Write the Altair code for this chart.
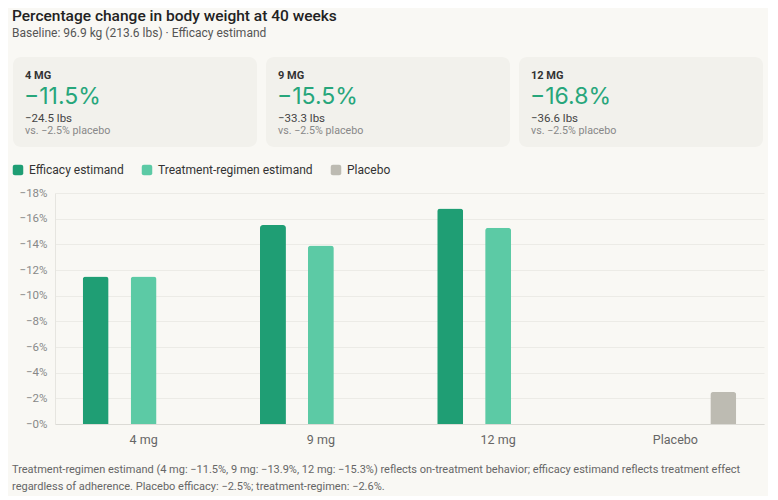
import altair as alt
import pandas as pd

FONT = "Roboto"

doses = ["4 mg", "9 mg", "12 mg", "Placebo"]
series = ["Efficacy estimand", "Treatment-regimen estimand", "Placebo"]
colors = ["#1f9e74", "#5ccaa5", "#bdbbb2"]

bar_dose = ["4 mg", "4 mg", "9 mg", "9 mg", "12 mg", "12 mg", "Placebo"]
bar_series = ["Efficacy estimand", "Treatment-regimen estimand",
              "Efficacy estimand", "Treatment-regimen estimand",
              "Efficacy estimand", "Treatment-regimen estimand",
              "Placebo"]
bar_value = [-11.5, -11.5, -15.5, -13.9, -16.8, -15.3, -2.5]

card_label = ["4 MG", "9 MG", "12 MG"]
card_pct = [-11.5, -15.5, -16.8]
card_lbs = [-24.5, -33.3, -36.6]
card_placebo = [-2.5, -2.5, -2.5]

y_ticks = [0, -2, -4, -6, -8, -10, -12, -14, -16, -18]

title_text = "Percentage change in body weight at 40 weeks"
subtitle_text = "Baseline: 96.9 kg (213.6 lbs) \u00b7 Efficacy estimand"
footnote_lines = [
    "Treatment-regimen estimand (4 mg: \u221211.5%, 9 mg: \u221213.9%, 12 mg: \u221215.3%) reflects on-treatment behavior; efficacy estimand reflects treatment effect",
    "regardless of adherence. Placebo efficacy: \u22122.5%; treatment-regimen: \u22122.6%.",
]

PLOT_W = 709
PLOT_H = 231
LEFT = 43

# ---------- cards ----------
cards_df = pd.DataFrame({
    "dose": card_label,
    "pct": [f"\u2212{abs(v):.1f}%" for v in card_pct],
    "lbs": [f"\u2212{abs(v):.1f} lbs" for v in card_lbs],
    "vs": [f"vs. \u2212{abs(v):.1f}% placebo" for v in card_placebo],
})

cbase = alt.Chart(cards_df).encode(
    x=alt.X("dose:N", sort=card_label, axis=None,
            scale=alt.Scale(range=[-42, 708], paddingInner=0.0356, paddingOuter=0))
)
card_rect = cbase.mark_rect(color="#f2f1ec", cornerRadius=8)
t_label = cbase.mark_text(align="left", baseline="alphabetic", dx=-110, fontSize=11,
                          fontWeight="bold", color="#333333").encode(
    y=alt.value(22), text="dose:N")
t_pct = cbase.mark_text(align="left", baseline="alphabetic", dx=-111, fontSize=23,
                        font="Inter", color="#27a67b").encode(y=alt.value(47), text="pct:N")
t_lbs = cbase.mark_text(align="left", baseline="alphabetic", dx=-110, fontSize=11.5,
                        color="#444444").encode(y=alt.value(64.5), text="lbs:N")
t_vs = cbase.mark_text(align="left", baseline="alphabetic", dx=-110, fontSize=10.7,
                       color="#888888").encode(y=alt.value(77), text="vs:N")
cards = alt.layer(card_rect, t_label, t_pct, t_lbs, t_vs).properties(width=PLOT_W, height=90)

# ---------- bars ----------
bar_df = pd.DataFrame({"dose": bar_dose, "series": bar_series, "value": bar_value})

rounded_square = "M-0.6,-1H0.6Q1,-1,1,-0.6V0.6Q1,1,0.6,1H-0.6Q-1,1,-1,0.6V-0.6Q-1,-1,-0.6,-1Z"

bars = alt.Chart(bar_df).mark_bar(cornerRadiusTopLeft=3, cornerRadiusTopRight=3).encode(
    x=alt.X("dose:N", sort=doses,
            scale=alt.Scale(domain=doses, paddingInner=0, paddingOuter=0),
            axis=alt.Axis(title=None, labelAngle=0, ticks=False, domainColor="#dcdbd6",
                          labelPadding=9, labelFontSize=12.5, labelColor="#666666",
                          grid=False)),
    xOffset=alt.XOffset("series:N", sort=series,
                        scale=alt.Scale(domain=series, paddingInner=0.458, paddingOuter=0.578)),
    y=alt.Y("value:Q", scale=alt.Scale(domain=[0, -18]),
            axis=alt.Axis(title=None, values=y_ticks, ticks=False,
                          labelExpr="'\u2212' + abs(datum.value) + '%'",
                          labelFontSize=11.5, labelColor="#888888", labelPadding=8,
                          domainColor="#e6e5e0", gridColor="#ecebe6")),
    color=alt.Color("series:N",
                    scale=alt.Scale(domain=series, range=colors),
                    legend=alt.Legend(title=None, orient="none", legendX=-LEFT, legendY=-29,
                                      direction="horizontal", symbolType=rounded_square,
                                      symbolSize=110, symbolStrokeWidth=0,
                                      labelFontSize=12, labelColor="#333333", labelLimit=400,
                                      columnPadding=17, labelOffset=5)),
).properties(
    width=PLOT_W, height=PLOT_H,
    title=alt.TitleParams(footnote_lines, orient="bottom", anchor="start", frame="group",
                          dx=-LEFT, fontSize=11, fontWeight="normal", color="#666666",
                          lineHeight=17, offset=18),
)

chart = alt.vconcat(cards, bars, spacing=17).resolve_scale(color="independent").properties(
    title=alt.TitleParams(title_text, subtitle=subtitle_text, anchor="start",
                          fontSize=15.5, fontWeight=500, color="#222222",
                          subtitleFontSize=12, subtitleColor="#555555",
                          subtitlePadding=4, offset=18),
    background="#f9f8f4",
    padding={"left": 4, "top": 0, "right": 4, "bottom": 4},
).configure(font=FONT).configure_view(stroke=None)

chart.save("out.html", embed_options={"renderer": "svg", "actions": False})
